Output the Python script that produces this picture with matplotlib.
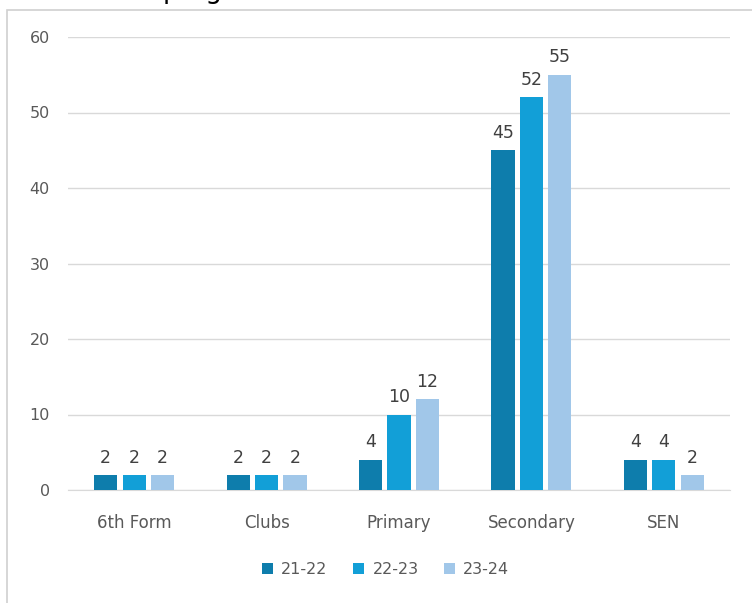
import numpy as np
import matplotlib.pyplot as plt
from matplotlib.patches import Rectangle

categories = ["6th Form", "Clubs", "Primary", "Secondary", "SEN"]
years = ["21-22", "22-23", "23-24"]
v2122 = [2, 2, 4, 45, 4]
v2223 = [2, 2, 10, 52, 4]
v2324 = [2, 2, 12, 55, 2]
colors = ["#0E7DAC", "#129FD7", "#A1C7E9"]

plt.rcParams['font.family'] = ['DejaVu Sans']

fig = plt.figure(figsize=(7.52, 6.03), dpi=100)
# chart frame (screenshot is cropped, so only top/left edges show)
fig.patches.append(Rectangle((7 / 752, -0.1), 1.2, 1 - 10 / 603 + 0.1,
                             transform=fig.transFigure, fill=False,
                             edgecolor="#d0d0d0", linewidth=1.2))
# bits of the title cut off at the top
fig.text(163 / 752, 1 + 1.5 / 603, "programmes", fontsize=19, va="baseline",
         color="black")

ax = fig.add_axes([68 / 752, 1 - 490 / 603, (730 - 68) / 752, (490 - 37) / 603])

x = np.arange(len(categories))
w = 0.175
off = 0.215
for i, (vals, lab) in enumerate(zip([v2122, v2223, v2324], years)):
    bars = ax.bar(x + (i - 1) * off, vals, w, color=colors[i], label=lab, zorder=3)
    ax.bar_label(bars, padding=6, fontsize=12.5, color="#404040")

ax.set_xlim(-0.5, len(categories) - 0.5)
ax.set_ylim(0, 60)
ax.set_yticks(range(0, 61, 10))
ax.set_xticks(x)
ax.set_xticklabels(categories)
ax.grid(axis="y", color="#d9d9d9", linewidth=1, zorder=0)
for s in ["top", "right", "left"]:
    ax.spines[s].set_visible(False)
ax.spines["bottom"].set_color("#d9d9d9")
ax.tick_params(axis="both", length=0, labelsize=11.5, labelcolor="#595959")
ax.tick_params(axis="x", labelsize=12)
ax.tick_params(axis="y", pad=13)
ax.tick_params(axis="x", pad=17)

ax.legend(loc="center", bbox_to_anchor=(0.48, -0.175), ncol=3, frameon=False,
          fontsize=11.5, labelcolor="#595959", handlelength=0.7, handleheight=0.7,
          handletextpad=0.5, columnspacing=1.6)

fig.savefig("out.png", dpi=100)
